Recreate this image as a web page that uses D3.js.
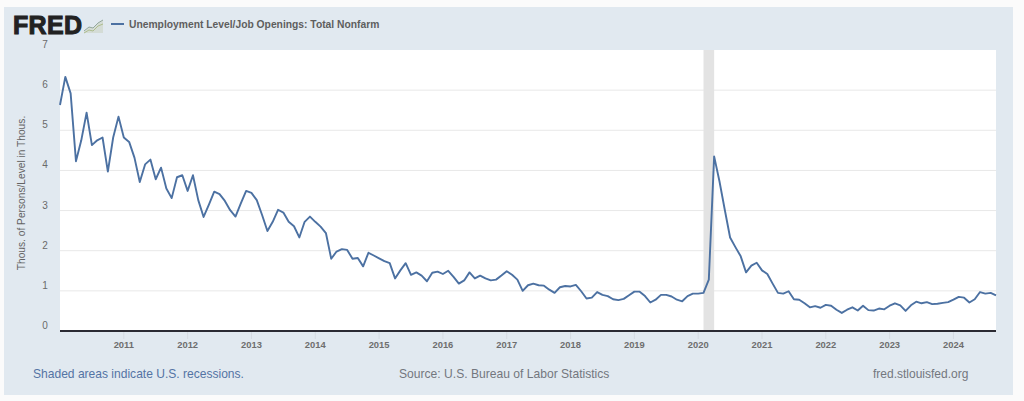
<!DOCTYPE html>
<html><head><meta charset="utf-8">
<script src="https://cdn.jsdelivr.net/npm/d3@7/dist/d3.min.js"></script>
<style>
html,body{margin:0;padding:0;background:#fbfbfb;overflow:hidden}
svg{display:block}
text{font-family:"Liberation Sans",Arial,sans-serif}
</style></head><body>
<svg id="c" width="1024" height="401"></svg>
<script>
const title = "Unemployment Level/Job Openings: Total Nonfarm";
const yLabel = "Thous. of Persons/Level in Thous.";
const startYear = 2010;
const ratio = [
 5.63,6.33,5.92,4.23,4.75,5.44,4.63,4.75,4.82,3.97,4.82,5.34,
 4.82,4.71,4.32,3.71,4.15,4.27,3.78,4.07,3.55,3.31,3.83,3.88,
 3.49,3.88,3.26,2.84,3.15,3.47,3.41,3.24,3.01,2.85,3.18,3.49,
 3.44,3.26,2.89,2.49,2.72,3.02,2.95,2.72,2.61,2.33,2.72,2.85,
 2.72,2.60,2.44,1.80,1.98,2.04,2.02,1.80,1.82,1.61,1.95,1.88,
 1.81,1.74,1.69,1.31,1.51,1.69,1.40,1.46,1.38,1.24,1.45,1.48,
 1.42,1.50,1.35,1.18,1.26,1.46,1.31,1.38,1.31,1.26,1.28,1.38,
 1.49,1.40,1.28,1.00,1.14,1.18,1.14,1.13,1.03,0.95,1.09,1.12,
 1.11,1.15,0.99,0.81,0.83,0.97,0.90,0.87,0.79,0.77,0.80,0.89,
 0.98,0.98,0.87,0.71,0.78,0.90,0.90,0.86,0.78,0.74,0.87,0.93,
 0.93,0.95,1.28,4.35,3.73,3.02,2.33,2.09,1.86,1.46,1.63,1.70,
 1.51,1.42,1.18,0.95,0.93,0.99,0.79,0.78,0.69,0.59,0.62,0.58,
 0.65,0.63,0.53,0.45,0.53,0.59,0.51,0.63,0.52,0.51,0.56,0.54,
 0.63,0.69,0.64,0.50,0.64,0.73,0.69,0.72,0.67,0.68,0.70,0.72,
 0.78,0.85,0.83,0.71,0.79,0.97,0.93,0.95,0.89
];
const dates = ratio.map((_, i) => new Date(startYear, i, 1));
const recessionStart = new Date(2020, 1, 1);
const recessionEnd = new Date(2020, 3, 1);
const yearTicks = d3.range(2011, 2025);
const valueTicks = d3.range(0, 8);

const svg = d3.select("#c");
const L = 60, R = 996, T = 50, B = 331;
const x = d3.scaleLinear().domain([0, ratio.length - 1]).range([L, R]);
const xd = d => x((d.getFullYear() - startYear) * 12 + d.getMonth());
const y = d3.scaleLinear().domain([0, 7]).range([B, T]);

svg.append("rect").attr("x", 4).attr("y", 7).attr("width", 1009).attr("height", 388).attr("fill", "#e1e9f0");
svg.append("rect").attr("x", L).attr("y", T).attr("width", R - L).attr("height", B - T).attr("fill", "#fff");

svg.append("g").selectAll("line").data(valueTicks.slice(1, -1)).join("line")
  .attr("x1", L).attr("x2", R).attr("y1", y).attr("y2", y)
  .attr("stroke", "#e8e8e8").attr("stroke-width", 1);

svg.append("rect").attr("x", xd(recessionStart)).attr("y", T)
  .attr("width", xd(recessionEnd) - xd(recessionStart)).attr("height", B - T).attr("fill", "#e3e3e3");

svg.append("g").selectAll("line").data(yearTicks).join("line")
  .attr("x1", d => xd(new Date(d, 0, 1))).attr("x2", d => xd(new Date(d, 0, 1)))
  .attr("y1", B).attr("y2", B + 8).attr("stroke", "#d5dbe2");

svg.append("line").attr("x1", L).attr("x2", R).attr("y1", B).attr("y2", B)
  .attr("stroke", "#2b2b33").attr("stroke-width", 2);

const line = d3.line().x((d, i) => x(i)).y(d => y(d));
svg.append("path").datum(ratio).attr("d", line).attr("fill", "none")
  .attr("stroke", "#4c71a2").attr("stroke-width", 1.9).attr("stroke-linejoin", "round");

svg.append("g").selectAll("text").data(yearTicks).join("text")
  .attr("x", d => xd(new Date(d, 0, 1))).attr("y", 348).attr("text-anchor", "middle")
  .attr("font-size", 9.4).attr("font-weight", "bold").attr("fill", "#6e6e6e").text(d => d);

svg.append("g").selectAll("text").data(valueTicks).join("text")
  .attr("x", 45).attr("y", d => y(d) - 2).attr("text-anchor", "middle")
  .attr("font-size", 10).attr("fill", "#6a6a6a").text(d => d);

svg.append("text").attr("transform", "translate(25,193) rotate(-90)").attr("text-anchor", "middle")
  .attr("font-size", 10.2).attr("fill", "#646464").text(yLabel);

// header
svg.append("text").attr("x", 13).attr("y", 34).attr("font-size", 25).attr("font-weight", "bold")
  .attr("fill", "#222").attr("stroke", "#222").attr("stroke-width", 1).attr("letter-spacing", 0.3).text("FRED");
const icon = svg.append("g").attr("transform", "translate(84,19)");
icon.append("path").attr("d", "M0,13 L5,8 L9,9 L14,4 L19,1 L19,14 L0,14 Z").attr("fill", "#d4dcd6");
icon.append("path").attr("d", "M0,12 L5,8 L9,9 L14,4 L19,1").attr("fill", "none").attr("stroke", "#93a79c").attr("stroke-width", 1);
icon.append("path").attr("d", "M0,14 L5,11 L9,12 L14,7 L19,5").attr("fill", "none").attr("stroke", "#aebd8e").attr("stroke-width", 1);
svg.append("line").attr("x1", 111).attr("x2", 124).attr("y1", 24).attr("y2", 24).attr("stroke", "#4c71a2").attr("stroke-width", 2);
svg.append("text").attr("x", 129).attr("y", 28).attr("font-size", 10.3).attr("font-weight", "bold").attr("fill", "#5e5e5e").text(title);

// footer
svg.append("text").attr("x", 33).attr("y", 378).attr("font-size", 12.05).attr("fill", "#5474a4").text("Shaded areas indicate U.S. recessions.");
svg.append("text").attr("x", 399).attr("y", 378).attr("font-size", 12.1).attr("fill", "#73777e").text("Source: U.S. Bureau of Labor Statistics");
svg.append("text").attr("x", 873).attr("y", 378).attr("font-size", 12).attr("fill", "#73777e").text("fred.stlouisfed.org");
</script>
</body></html>
